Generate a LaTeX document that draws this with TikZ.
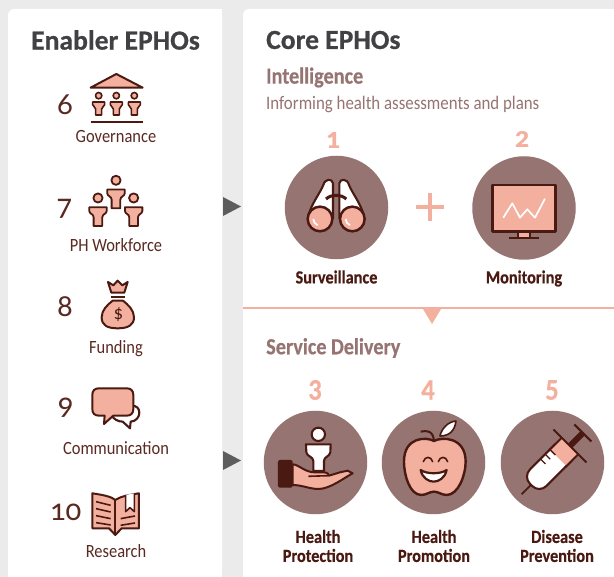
\documentclass[tikz,border=0pt]{standalone}
\usepackage{fontspec}
\setmainfont{Carlito}
\newfontfamily\numf[Numbers=OldStyle]{Carlito}
\newfontfamily\nrw[FakeStretch=0.88]{Carlito}
\newfontfamily\nrwb[FakeStretch=0.88,FakeBold=0.4]{Carlito Bold}
\newfontfamily\ttlb[FakeBold=0.6]{Carlito Bold}
\newfontfamily\widb[FakeStretch=1.15,FakeBold=1]{Carlito Bold}
\definecolor{bgc}{HTML}{EBEBEB}
\definecolor{ttl}{HTML}{414042}
\definecolor{drk}{HTML}{4A1A12}
\definecolor{sal}{HTML}{F4B09E}
\definecolor{mau}{HTML}{967472}
\definecolor{lab}{HTML}{5A2A22}
\tikzset{
 titletext/.style={font=\ttlb\fontsize{27.6}{29}\selectfont,text=ttl,inner sep=0pt},
 headtext/.style={font=\nrwb\fontsize{23}{25}\selectfont,text=mau,inner sep=0pt,anchor=west},
 enablerlabel/.style={font=\nrw\fontsize{18.7}{20}\selectfont,text=lab,inner sep=0pt},
 enablernum/.style={font=\numf\fontsize{31}{33}\selectfont,text=lab,inner sep=0pt},
 corelabel/.style={font=\nrwb\fontsize{18.5}{20}\selectfont,text=drk,inner sep=0pt,align=center},
 corenum/.style={font=\nrwb\fontsize{30}{31}\selectfont,text=sal,inner sep=0pt},
 topnum/.style={font=\widb\fontsize{24}{26}\selectfont,text=sal,inner sep=0pt},
 corecircle/.style={circle,fill=mau,minimum size=103.5pt,inner sep=0pt},
 icon/.style={draw=drk,fill=sal,line width=2pt,line join=round},
 iconw/.style={draw=drk,fill=white,line width=2.1pt,line join=round},
 zoomed/.style={x=0.3333pt,y=-0.3333pt},
 tri/.style={fill=#1,draw=none}
}
\newcommand{\personicon}[4]{% x, y, scale, line width
 \begin{scope}[shift={(#1,#2)},scale=#3]
  \draw[icon,line width=#4] (0,0) circle (9.5);
  \draw[icon,line width=#4] (-18,19) -- (18,19) -- (18,27) .. controls (18,33) and (9,33) .. (9,40) -- (9,58) -- (-9,58) -- (-9,40) .. controls (-9,33) and (-18,33) .. (-18,27) -- cycle;
 \end{scope}}
\begin{document}
\begin{tikzpicture}[x=1pt,y=-1pt]
\useasboundingbox (0,0) rectangle (614,577);
\fill[bgc] (0,0) rectangle (614,577);
\fill[white,rounded corners=6pt] (8,577) -- (8,9) -- (222,9) -- (222,577) -- cycle;
\fill[white,rounded corners=6pt] (243,577) -- (243,9) -- (614,9) -- (614,577) -- cycle;
\fill[white] (215,9) rectangle (222,20);
\fill[white] (600,9) rectangle (614,20);
\fill[white] (8,560) rectangle (30,577);
\fill[white] (215,560) rectangle (222,577);
\fill[white] (243,560) rectangle (260,577);
\fill[white] (600,560) rectangle (614,577);
% arrows
\fill[tri=ttl!85!white] (223,197) -- (241,206.5) -- (223,216) -- cycle;
\fill[tri=ttl!85!white] (223,451) -- (241,460.5) -- (223,470) -- cycle;
% divider
\draw[sal,line width=2pt] (243,308.5) -- (614,308.5);
\fill[sal] (423,309) -- (441,309) -- (432,324) -- cycle;
% titles
\node[titletext] (entitle) at (115.5,40) {Enabler EPHOs};
\node[titletext,anchor=west] (coretitle) at (266,40) {Core EPHOs};
\node[headtext] (intel) at (266,77.5) {Intelligence};
\node[font=\nrw\fontsize{19.15}{21}\selectfont,text=mau,inner sep=0pt,anchor=west] (intelsub) at (266,105) {Informing health assessments and plans};
\node[headtext] (service) at (266,348) {Service Delivery};
% enabler labels
\node[enablernum] (n6) at (65,105) {6};
\node[enablernum] (n7) at (64.5,209) {7};
\node[enablernum] (n8) at (65,307) {8};
\node[enablernum] (n9) at (65.5,408) {9};
\node[enablernum] (n10) at (65.5,512) {10};
\node[enablerlabel] (l6) at (116,137) {Governance};
\node[enablerlabel] (l7) at (116,245) {PH Workforce};
\node[enablerlabel] (l8) at (116,349) {Funding};
\node[enablerlabel] (l9) at (116,448) {Communication};
\node[enablerlabel] (l10) at (116,551) {Research};
% governance + workforce icons
\begin{scope}[zoomed]
 \draw[icon] (272,263) -- (349,222) -- (428,263) -- cycle;
 \draw[drk,line width=2pt] (272,366) -- (428,366);
 \personicon{296}{287}{1}{1.6pt}
 \personicon{349}{287}{1}{1.6pt}
 \personicon{403}{287}{1}{1.6pt}
 \personicon{348}{541}{1.45}{1.8pt}
 \personicon{294}{594}{1.45}{1.8pt}
 \personicon{401}{594}{1.45}{1.8pt}
\end{scope}
% funding, communication, research
\begin{scope}[shift={(0,280)},zoomed]
 \draw[icon] (324,6) -- (340,16) -- (353,2) -- (367,16) -- (383,6) -- (373,38) -- (334,38) -- cycle;
 \draw[drk,line width=1.9pt] (332,50) -- (376,50);
 \draw[icon] (338,62) -- (369,62) .. controls (385,75) and (402,90) .. (402,112) .. controls (402,135) and (385,145) .. (353,145) .. controls (321,145) and (305,135) .. (305,112) .. controls (305,90) and (322,75) .. (338,62) -- cycle;
 \node[font=\fontsize{19}{19}\selectfont,text=drk,inner sep=0pt] (dollar) at (355,104) {\$};
 % speech
 \draw[iconw] (395,377) .. controls (410,377) and (418,385) .. (418,398) .. controls (418,412) and (408,424) .. (392,425) -- (390,445) -- (368,425) .. controls (355,425) and (340,418) .. (335,405) -- cycle;
 \draw[icon] (297,325) -- (380,325) .. controls (393,325) and (400,332) .. (400,345) -- (400,387) .. controls (400,400) and (393,407) .. (380,407) -- (340,407) -- (312,432) -- (314,407) -- (297,407) .. controls (284,407) and (277,400) .. (277,387) -- (277,345) .. controls (277,332) and (284,325) .. (297,325) -- cycle;
 % book
 \draw[icon] (277,640) .. controls (310,645) and (335,650) .. (346,660) .. controls (360,650) and (385,645) .. (417,640) -- (417,745) -- (365,745) -- (346,765) -- (327,745) -- (277,745) -- cycle;
 \draw[drk,line width=1.8pt] (346,660) -- (346,765);
 \draw[drk,line width=1.6pt] (288,665) -- (332,676) (288,686) -- (332,696) (288,707) -- (332,716) (288,728) -- (332,735) (362,716) -- (405,708) (362,736) -- (405,729);
 \draw[iconw,line width=1.6pt] (377,645) -- (377,695) -- (390,683) -- (403,695) -- (403,640);
\end{scope}
% core circles
\node[corecircle] (c1) at (336.5,207.5) {};
\node[corecircle] (c2) at (524,208) {};
\node[corecircle] (c3) at (315.5,462.5) {};
\node[corecircle] (c4) at (433.5,462.5) {};
\node[corecircle] (c5) at (552.5,462.5) {};
\node[topnum] (n1) at (333,140) {1};
\node[topnum] (n2) at (522,139) {2};
\node[corenum] (n3) at (315,390) {3};
\node[corenum] (n4) at (428,390) {4};
\node[corenum] (n5) at (552,390) {5};
\node[corelabel] (l1) at (336.5,277) {Surveillance};
\node[corelabel] (l2) at (524,278.5) {Monitoring};
\node[corelabel] (l3) at (318,546) {Health\\[-1pt]Protection};
\node[corelabel] (l4) at (434,546) {Health\\[-1pt]Promotion};
\node[corelabel] (l5) at (557,546) {Disease\\[-1pt]Prevention};
% plus
\draw[sal,line width=4.4pt] (416,207) -- (444,207) (430,193) -- (430,221);
% binoculars + monitor
\begin{scope}[shift={(270,120)},zoomed]
 \draw[iconw] (116,285) .. controls (125,250) and (150,220) .. (160,195) .. controls (165,175) and (187,175) .. (189,190) -- (189,295) -- cycle;
 \draw[iconw] (281,285) .. controls (272,250) and (247,220) .. (237,195) .. controls (232,175) and (210,175) .. (208,190) -- (208,295) -- cycle;
 \draw[icon,line width=2.5pt] (150,297) circle (37);
 \draw[icon,line width=2.5pt] (247,297) circle (37);
 \draw[white,line width=1.7pt] (130,297) arc[start angle=180,end angle=110,radius=20];
 \draw[white,line width=1.7pt] (227,297) arc[start angle=180,end angle=110,radius=20];
 \draw[drk,line width=3pt] (168,237) .. controls (185,222) and (212,222) .. (229,237);
 \draw[icon,line width=1.9pt] (745,335) rectangle (780,353);
 \draw[drk,line width=2.2pt] (718,355) -- (808,355);
 \draw[icon,line width=2.6pt] (668,195) rectangle (857,335);
 \draw[white,line width=1.7pt,line join=round] (700,293) -- (727,250) -- (750,293) -- (772,268) -- (795,293) -- (825,236);
\end{scope}
% hand, apple, syringe
\begin{scope}[shift={(255,375)},zoomed]
 \draw[iconw] (153,208) -- (227,208) -- (226,232) .. controls (224,245) and (207,245) .. (207,258) -- (207,288) -- (175,288) -- (175,258) .. controls (175,245) and (156,245) .. (154,232) -- cycle;
 \draw[iconw] (190,178) circle (20);
 \draw[icon] (113,268) .. controls (130,268) and (150,292) .. (178,292) -- (205,292) .. controls (217,292) and (222,298) .. (222,302) -- (255,292) -- (278,287) -- (293,295) .. controls (265,310) and (225,342) .. (190,342) .. controls (165,342) and (140,330) .. (113,330) -- cycle;
 \draw[drk,line width=1.6pt] (160,304) -- (222,302);
 \fill[drk,rounded corners=2pt] (69,255) rectangle (113,338);
 % apple
 \draw[drk,line width=2pt] (497,170) .. controls (530,163) and (537,180) .. (537,205);
 \draw[icon,line width=2.4pt] (537,198) .. controls (560,185) and (632,185) .. (632,260) .. controls (632,300) and (610,360) .. (575,360) .. controls (560,360) and (550,350) .. (537,350) .. controls (524,350) and (514,360) .. (499,360) .. controls (464,360) and (447,300) .. (447,260) .. controls (447,185) and (514,185) .. (537,198) -- cycle;
 \draw[iconw,line width=1.6pt] (555,183) .. controls (560,160) and (580,140) .. (603,138) .. controls (600,165) and (585,183) .. (555,183) -- cycle;
 \draw[drk,line width=1.6pt,line cap=round] (505,260) .. controls (510,243) and (528,243) .. (533,260);
 \draw[drk,line width=1.6pt,line cap=round] (550,260) .. controls (555,243) and (573,243) .. (578,260);
 \draw[iconw,line width=2.2pt] (497,285) .. controls (515,298) and (557,298) .. (575,285) .. controls (570,310) and (550,320) .. (536,320) .. controls (522,320) and (502,310) .. (497,285) -- cycle;
 % syringe
 \begin{scope}[shift={(945,213)},rotate=225]
  \draw[drk,line width=1.8pt] (165,0) -- (205,0);
  \fill[drk] (-55,-9) rectangle (0,9);
  \draw[drk,line width=2pt] (-55,-36) -- (-55,36);
  \draw[iconw,rounded corners=10pt] (0,-35) -- (165,-35) -- (165,35) -- (0,35) -- cycle;
  \fill[sal] (1.5,-33) rectangle (50,33);
  \draw[drk,line width=2pt] (0,-70) -- (0,70);
  \draw[drk,line width=2pt] (0,-35) -- (55,-35) (0,35) -- (55,35);
  \draw[drk,line width=1.3pt] (50,34) -- (50,12) (70,34) -- (70,14) (90,34) -- (90,14);
 \end{scope}
\end{scope}
\end{tikzpicture}
\end{document}
